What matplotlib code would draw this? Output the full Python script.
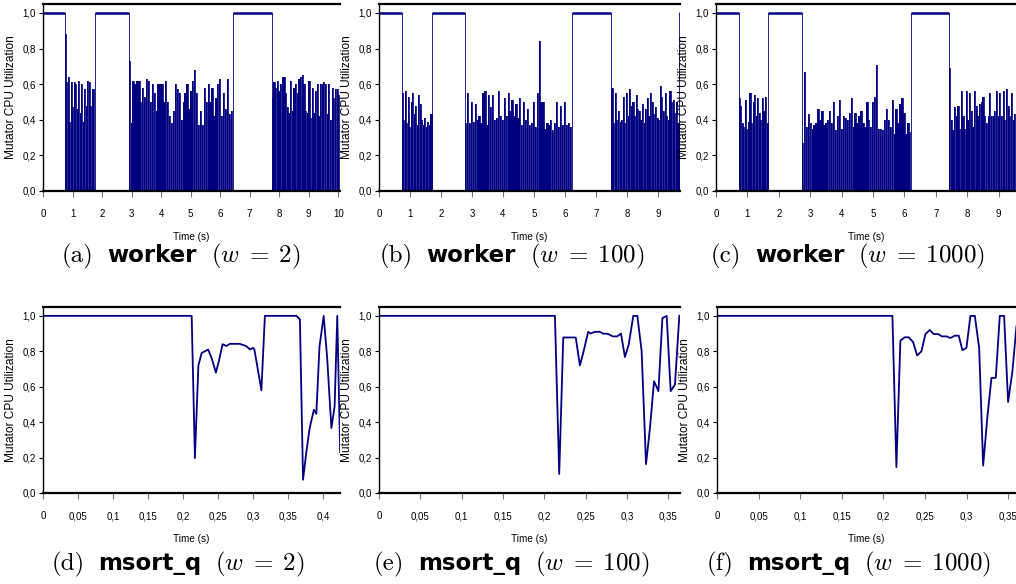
import numpy as np
import matplotlib
matplotlib.use("Agg")
import matplotlib.pyplot as plt
from matplotlib.ticker import FuncFormatter
from matplotlib.offsetbox import TextArea, HPacker, AnnotationBbox

plt.rcParams['mathtext.fontset'] = 'custom'
plt.rcParams['mathtext.rm'] = 'cmr10'
plt.rcParams['mathtext.it'] = 'cmmi10'
plt.rcParams['mathtext.bf'] = 'DejaVu Sans:bold'
plt.rcParams['axes.formatter.use_mathtext'] = False

NARROW = ['Liberation Sans Narrow', 'Liberation Sans', 'DejaVu Sans']
SANS = ['Liberation Sans', 'DejaVu Sans']
NAVY = '#000080'

# ---- worker runs: (start, end) of 1.0 stretches and utilisation peaks in between
a_high = [(0.0, 0.74), (1.75, 2.9), (6.42, 7.75)]
a_spk1 = [0.88, 0.61, 0.64, 0.39, 0.61, 0.47, 0.61, 0.6, 0.46, 0.62, 0.44, 0.6,
          0.39, 0.57, 0.48, 0.62, 0.61, 0.48, 0.57, 0.57]
a_spk2 = [0.73, 0.38, 0.62, 0.6, 0.62, 0.62, 0.5, 0.58, 0.53, 0.63, 0.62, 0.5,
          0.6, 0.55, 0.45, 0.6, 0.6, 0.6, 0.5, 0.62, 0.5, 0.42, 0.38, 0.45,
          0.6, 0.57, 0.55, 0.4, 0.5, 0.55, 0.6, 0.46, 0.56, 0.62, 0.68, 0.55,
          0.37, 0.45, 0.37, 0.58, 0.5, 0.6, 0.5, 0.58, 0.42, 0.52, 0.6, 0.63,
          0.42, 0.55, 0.46, 0.63, 0.43, 0.45]
a_spk3 = [0.53, 0.61, 0.58, 0.62, 0.56, 0.6, 0.64, 0.64, 0.55, 0.47, 0.44, 0.62,
          0.45, 0.58, 0.6, 0.55, 0.63, 0.64, 0.65, 0.6, 0.45, 0.44, 0.62, 0.41,
          0.58, 0.44, 0.56, 0.6, 0.42, 0.6, 0.6, 0.61, 0.6, 0.43, 0.6, 0.4,
          0.58, 0.52, 0.57, 0.57, 0.54]

b_high = [(0.0, 0.73), (1.71, 2.77), (6.21, 7.5), (9.68, 9.75)]
b_spk1 = [0.55, 0.4, 0.56, 0.38, 0.53, 0.36, 0.5, 0.55, 0.43, 0.48, 0.37, 0.54,
          0.49, 0.4, 0.37, 0.41, 0.36, 0.39, 0.37, 0.43]
b_spk2 = [0.38, 0.55, 0.38, 0.5, 0.39, 0.49, 0.4, 0.42, 0.38, 0.55, 0.56, 0.37,
          0.54, 0.47, 0.54, 0.4, 0.41, 0.56, 0.42, 0.4, 0.52, 0.42, 0.55, 0.45,
          0.51, 0.42, 0.49, 0.41, 0.52, 0.37, 0.5, 0.4, 0.46, 0.37, 0.38, 0.5,
          0.36, 0.55, 0.84, 0.5, 0.5, 0.35, 0.38, 0.37, 0.4, 0.34, 0.38, 0.5,
          0.36, 0.48, 0.37, 0.5, 0.37, 0.38, 0.36]
b_spk3 = [0.58, 0.38, 0.55, 0.4, 0.45, 0.39, 0.4, 0.53, 0.38, 0.55, 0.42, 0.57,
          0.48, 0.5, 0.42, 0.54, 0.46, 0.45, 0.4, 0.49, 0.38, 0.46, 0.52, 0.42,
          0.55, 0.5, 0.43, 0.47, 0.41, 0.4, 0.59, 0.53, 0.45, 0.55, 0.42, 0.4,
          0.56, 0.5, 0.51, 0.44, 0.5, 0.38]

c_high = [(0.0, 0.72), (1.66, 2.73), (6.21, 7.42)]
c_spk1 = [0.52, 0.48, 0.38, 0.36, 0.51, 0.35, 0.39, 0.55, 0.38, 0.5, 0.54, 0.42,
          0.52, 0.44, 0.4, 0.52, 0.45, 0.53, 0.38]
c_spk2 = [0.27, 0.67, 0.36, 0.43, 0.38, 0.35, 0.37, 0.38, 0.46, 0.4, 0.45, 0.37,
          0.38, 0.4, 0.45, 0.38, 0.5, 0.34, 0.42, 0.51, 0.35, 0.42, 0.41, 0.4,
          0.44, 0.52, 0.36, 0.44, 0.38, 0.42, 0.45, 0.38, 0.36, 0.5, 0.4, 0.36,
          0.5, 0.53, 0.71, 0.35, 0.35, 0.34, 0.4, 0.46, 0.4, 0.36, 0.51, 0.32,
          0.46, 0.38, 0.49, 0.52, 0.44, 0.32, 0.38, 0.33]
c_spk3 = [0.69, 0.4, 0.34, 0.47, 0.42, 0.48, 0.35, 0.56, 0.42, 0.35, 0.56, 0.4,
          0.55, 0.45, 0.36, 0.56, 0.48, 0.42, 0.49, 0.5, 0.53, 0.42, 0.38, 0.42,
          0.55, 0.42, 0.42, 0.45, 0.56, 0.42, 0.55, 0.42, 0.56, 0.4, 0.57, 0.48,
          0.42, 0.55, 0.4, 0.43, 0.36]

# ---- msort_q runs: sampled utilisation
d_t = [0, 0.2124, 0.217, 0.222, 0.2266, 0.236, 0.241, 0.247, 0.251, 0.2565, 0.262,
       0.267, 0.281, 0.29, 0.296, 0.30, 0.302, 0.312, 0.317, 0.362, 0.367, 0.3715,
       0.376, 0.381, 0.387, 0.3905, 0.395, 0.401, 0.406, 0.412, 0.4166, 0.4204, 0.4245]
d_u = [1, 1, 0.197, 0.72, 0.79, 0.81, 0.76, 0.68, 0.74, 0.84, 0.83, 0.842, 0.842,
       0.83, 0.81, 0.82, 0.81, 0.58, 1.0, 1.0, 0.98, 0.075, 0.225, 0.367, 0.47,
       0.447, 0.827, 1.0, 0.76, 0.367, 0.489, 1.0, 0.23]
e_t = [0, 0.2128, 0.218, 0.2229, 0.238, 0.243, 0.247, 0.253, 0.256, 0.261, 0.267,
       0.271, 0.277, 0.283, 0.288, 0.2927, 0.2975, 0.302, 0.3076, 0.3125, 0.3177,
       0.323, 0.3278, 0.3327, 0.338, 0.3428, 0.348, 0.3528, 0.358, 0.3633]
e_u = [1, 1, 0.107, 0.878, 0.878, 0.72, 0.79, 0.91, 0.9, 0.91, 0.91, 0.9, 0.898,
       0.884, 0.884, 0.9, 0.768, 0.837, 1.0, 1.0, 0.8, 0.163, 0.369, 0.631, 0.575,
       0.987, 1.0, 0.575, 0.612, 1.0]
f_t = [0, 0.2109, 0.2157, 0.2205, 0.2257, 0.2305, 0.2358, 0.2406, 0.2458, 0.2506,
       0.2558, 0.2606, 0.2658, 0.2706, 0.2759, 0.2807, 0.2859, 0.2907, 0.2951,
       0.2999, 0.3047, 0.31, 0.3152, 0.32, 0.3252, 0.33, 0.3352, 0.34, 0.3452,
       0.35, 0.3552, 0.36]
f_u = [1, 1, 0.146, 0.86, 0.879, 0.879, 0.852, 0.776, 0.8, 0.897, 0.92, 0.897,
       0.897, 0.884, 0.884, 0.875, 0.888, 0.888, 0.806, 0.819, 1.0, 1.0, 0.819,
       0.155, 0.435, 0.65, 0.65, 1.0, 1.0, 0.514, 0.688, 0.94]

cap_tags = ['(a)', '(b)', '(c)', '(d)', '(e)', '(f)']
cap_bench = ['worker', 'worker', 'worker', 'msort_q', 'msort_q', 'msort_q']
cap_w = ['2', '100', '1000', '2', '100', '1000']


def worker_trace(high, spikes, t_end):
    # high stretches alternate with spike runs; spike run fills the gap after each high
    xs, ys = [], []
    for k, (h0, h1) in enumerate(high):
        xs.append(h0)
        ys.append(1.0)
        if k < len(spikes):
            s1 = high[k + 1][0] if k + 1 < len(high) else t_end
            vals = spikes[k]
            dt = (s1 - h1) / len(vals)
            for i, v in enumerate(vals):
                xs += [h1 + i * dt, h1 + (i + 0.68) * dt]
                ys += [v, 0.0]
    xs.append(t_end)
    ys.append(ys[-1])
    return np.array(xs), np.array(ys)


comma = lambda v, pos: ('%g' % round(v, 2)).replace('.', ',')
comma1 = lambda v, pos: ('%.1f' % v).replace('.', ',')

W, H = 1016, 584
fig = plt.figure(figsize=(W / 100, H / 100), dpi=100)

# pixel boxes: left, right, top, bottom
boxes = [(43, 340, 4, 191), (379, 680, 4, 191), (716, 1016, 4, 191),
         (43, 340, 307, 493), (379, 680, 307, 493), (717, 1016, 307, 493)]
xlims = [10.06, 9.71, 9.55, 0.4243, 0.3641, 0.3595]
xticks = [np.arange(0, 11), np.arange(0, 10), np.arange(0, 10),
          np.arange(0, 0.41, 0.05), np.arange(0, 0.36, 0.05), np.arange(0, 0.36, 0.05)]
cap_x = [181, 512, 848, 178, 512, 849]
cap_y = [256, 256, 256, 564, 564, 564]

highs = [a_high, b_high, c_high]
traces = [worker_trace(a_high, [a_spk1, a_spk2, a_spk3], 10.06),
          worker_trace(b_high, [b_spk1, b_spk2, b_spk3], 9.75),
          worker_trace(c_high, [c_spk1, c_spk2, c_spk3], 9.6),
          (d_t, d_u), (e_t, e_u), (f_t, f_u)]

for i, (l, r, t, b) in enumerate(boxes):
    ax = fig.add_axes([l / W, (H - b) / H, (r - l) / W, (b - t) / H])
    xs, ys = traces[i]
    if i < 3:
        ax.fill_between(xs, np.where(ys >= 1, 0, ys), step='post',
                        color=NAVY, lw=0)
        ax.plot(xs, ys, color=NAVY, lw=0.6, drawstyle='steps-post')
        h = np.array(highs[i])
        ax.hlines(np.ones(len(h)), h[:, 0], h[:, 1], color=NAVY, lw=1.8)
    else:
        ax.plot(xs, ys, color=NAVY, lw=1.3)
    ax.set_xlim(0, xlims[i])
    ax.set_ylim(0, 1.05)
    ax.set_xticks(xticks[i])
    ax.set_yticks(np.arange(0, 1.01, 0.2))
    ax.xaxis.set_major_formatter(FuncFormatter(comma))
    ax.yaxis.set_major_formatter(FuncFormatter(comma1))
    ax.spines['right'].set_visible(False)
    ax.spines['top'].set_linewidth(1.6)
    ax.spines['bottom'].set_linewidth(1.6)
    ax.spines['left'].set_linewidth(1.0)
    ax.tick_params(axis='x', length=4, width=0.8, color='#777777', pad=9,
                   labelsize=7)
    ax.tick_params(axis='y', length=3, width=0.8, pad=2, labelsize=7)
    for lab in ax.get_xticklabels() + ax.get_yticklabels():
        lab.set_family(NARROW)
    ax.set_ylabel('Mutator CPU Utilization', family=SANS, fontsize=8.6)
    ax.yaxis.set_label_coords(-26 / (r - l), 0.5)
    ax.set_xlabel('Time (s)', family=NARROW, fontsize=7.2)
    ax.xaxis.set_label_coords(0.5, -41 / (b - t))

    # caption: serif tag, bold sans benchmark name, math (w = n)
    parts = [TextArea(cap_tags[i], textprops=dict(family='cmr10', size=18)),
             TextArea(cap_bench[i], textprops=dict(family='DejaVu Sans',
                                                   weight='bold', size=16.5)),
             TextArea(r'$(w\;=\;%s)$' % cap_w[i], textprops=dict(size=18))]
    pack = HPacker(children=parts, sep=10, align='baseline', pad=0)
    fig.add_artist(AnnotationBbox(pack, (cap_x[i] / W, 1 - cap_y[i] / H),
                                  xycoords='figure fraction', frameon=False,
                                  box_alignment=(0.5, 0.5)))

fig.savefig('out.png', dpi=100)
